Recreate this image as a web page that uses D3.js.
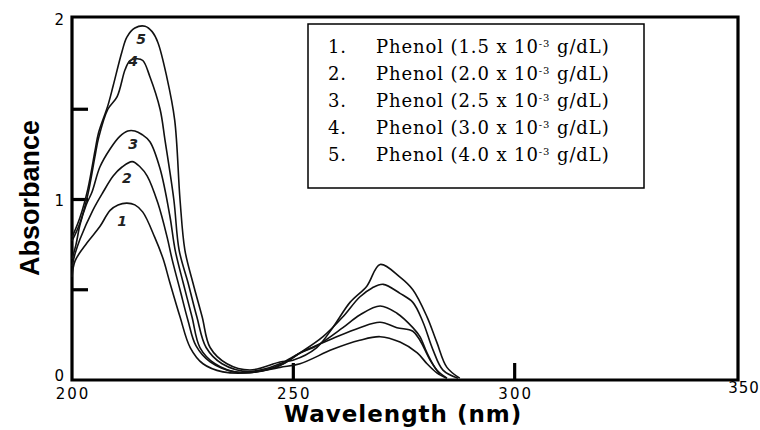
<!DOCTYPE html>
<html>
<head>
<meta charset="utf-8">
<script src="https://cdn.jsdelivr.net/npm/d3@7"></script>
<style>
  body { margin: 0; background: #fff; }
  .curve { fill: none; stroke: #111; stroke-width: 1.6; }
  .frame { stroke: #000; stroke-width: 3.2; fill: none; }
  .tick-label { font-family: "DejaVu Sans", sans-serif; font-size: 15px; letter-spacing: 2px; fill: #000; }
  .legend text { font-family: "DejaVu Serif", serif; font-size: 18px; letter-spacing: 0.9px; fill: #000; }
  .num { font-family: "DejaVu Sans", sans-serif; font-size: 14px; font-style: italic; font-weight: bold; fill: #222; }
</style>
</head>
<body>
<svg class="spectrum"></svg>
<script>
// absorbance spectra: [wavelength nm, absorbance]
const curve1 = [[200,0.57],[200.7,0.66],[203.4,0.76],[206.3,0.85],[208.6,0.94],[210.4,0.97],[212.4,0.98],[214.2,0.97],[216,0.93],[218.7,0.79],[220.6,0.67],[222.1,0.54],[224.4,0.35],[226.7,0.18],[229.6,0.09],[234.1,0.045],[240.2,0.04],[247,0.07],[251.5,0.09],[258.9,0.17],[265,0.22],[269.6,0.24],[274.1,0.21],[278,0.15],[280.2,0.09],[282.4,0.04],[284.7,0.01]];
const curve2 = [[200,0.63],[200.7,0.70],[201.8,0.78],[204.7,0.94],[207,1.04],[209.3,1.13],[211.3,1.18],[213.6,1.21],[215.4,1.18],[217,1.13],[219.4,0.98],[221.5,0.79],[222.6,0.67],[224.4,0.50],[226.2,0.33],[228,0.19],[231.2,0.10],[236.8,0.045],[242.5,0.055],[247,0.09],[251.5,0.15],[258.9,0.23],[265,0.29],[269.6,0.32],[273.4,0.29],[277,0.27],[278.6,0.22],[280.9,0.11],[283.1,0.03]];
const curve3 = [[200,0.67],[200.9,0.75],[201.8,0.86],[203.2,0.97],[204.5,1.04],[206.3,1.18],[208.6,1.28],[210.8,1.35],[212.6,1.38],[214.2,1.38],[215.8,1.36],[217.6,1.32],[219.9,1.17],[222.1,0.91],[223.3,0.72],[225.1,0.54],[227.1,0.35],[228.9,0.18],[232.3,0.09],[237.9,0.04],[243.6,0.055],[247.7,0.09],[251.5,0.15],[255.3,0.19],[261.2,0.29],[265,0.36],[269.6,0.41],[273.4,0.37],[277,0.29],[278.6,0.24],[280.2,0.15],[282.4,0.055],[284.7,0.01]];
const curve4 = [[200,0.77],[201.8,0.87],[203.6,1.03],[205.2,1.24],[206,1.34],[208.1,1.50],[210.2,1.57],[212,1.72],[213.1,1.77],[214.7,1.78],[216,1.77],[217.6,1.68],[219.9,1.50],[221,1.33],[223,1.0],[224.2,0.72],[226.2,0.54],[228.2,0.35],[230.3,0.18],[233.9,0.09],[240.2,0.045],[247,0.08],[251.5,0.15],[256.7,0.24],[261.2,0.35],[265,0.46],[267.8,0.51],[270.3,0.53],[274.1,0.48],[277,0.43],[279.3,0.32],[281.5,0.17],[283.8,0.055],[287.2,0.01]];
const curve5 = [[200,0.79],[201.8,0.90],[203.6,1.06],[205.2,1.27],[206,1.37],[208.1,1.52],[209.3,1.63],[211.3,1.82],[212.4,1.90],[214.2,1.95],[216.5,1.96],[218.1,1.93],[219.4,1.87],[221.4,1.68],[223.2,1.44],[224.4,1.0],[225.5,0.72],[227.3,0.54],[229.4,0.35],[231.2,0.18],[235,0.09],[240.2,0.055],[247,0.10],[249.9,0.11],[255.3,0.18],[258.9,0.29],[262.8,0.43],[266.6,0.52],[269.6,0.64],[274.1,0.57],[277,0.50],[280.2,0.35],[282.4,0.21],[284.7,0.07],[287.6,0.01]];
const curves = [curve1, curve2, curve3, curve4, curve5];

// hand-written curve numbers, placed in data units
const curveNames = ["1", "2", "3", "4", "5"];
const nameWavelength = [211.3, 212.4, 213.8, 213.8, 215.6];
const nameAbsorbance = [0.88, 1.12, 1.31, 1.77, 1.89];

// legend entries
const concentrations = ["1.5", "2.0", "2.5", "3.0", "4.0"];

// axis ticks
const xTickLabels = [200, 250, 300, 350];
const yTickLabels = [0, 1, 2];
const yMinorTicks = [0.5, 1, 1.5];
const xInnerTicks = [250, 300];

var width = 760, height = 430;

var x = d3.scaleLinear().domain([200, 350]).range([72, 736]);
var y = d3.scaleLinear().domain([0, 2]).range([380, 19]);

var svg = d3.select("svg.spectrum")
    .attr("width", width)
    .attr("height", height);

// plot frame
var frameRight = 738, frameTop = 17;
svg.append("path")
    .attr("class", "frame")
    .attr("d", "M" + x(200) + "," + frameTop + "L" + frameRight + "," + frameTop +
               "L" + frameRight + "," + y(0) + "L" + x(200) + "," + y(0) + "Z");

// inner ticks on the left axis
svg.selectAll(".ytick")
    .data(yMinorTicks)
  .enter().append("line")
    .attr("class", "frame")
    .attr("x1", x(200)).attr("x2", x(200) + 16)
    .attr("y1", function(d) { return y(d); })
    .attr("y2", function(d) { return y(d); });

// inner ticks on the bottom axis
svg.selectAll(".xtick")
    .data(xInnerTicks)
  .enter().append("line")
    .attr("class", "frame")
    .attr("x1", function(d) { return x(d); })
    .attr("x2", function(d) { return x(d); })
    .attr("y1", y(0)).attr("y2", y(0) - 17);

// y tick labels
svg.selectAll(".ylab")
    .data(yTickLabels)
  .enter().append("text")
    .attr("class", "tick-label")
    .attr("x", 66)
    .attr("y", function(d) { return d === 0 ? y(d) + 1 : y(d) + 6; })
    .attr("text-anchor", "end")
    .text(function(d) { return d; });

// x tick labels (the last one sits a bit higher, as in the original)
svg.selectAll(".xlab")
    .data(xTickLabels)
  .enter().append("text")
    .attr("class", "tick-label")
    .attr("x", function(d) { return x(d) + (d === 350 ? 8 : 1); })
    .attr("y", function(d) { return d === 350 ? 393 : 399; })
    .attr("text-anchor", "middle")
    .style("letter-spacing", function(d) { return d === 350 ? "1px" : null; })
    .text(function(d) { return d; });

// axis titles
svg.append("text")
    .attr("x", 403).attr("y", 422)
    .attr("text-anchor", "middle")
    .style("font-family", "DejaVu Sans, sans-serif")
    .style("font-weight", "bold")
    .style("font-size", "23px")
    .style("letter-spacing", "1px")
    .text("Wavelength (nm)");

svg.append("text")
    .attr("transform", "translate(39,198) rotate(-90)")
    .attr("text-anchor", "middle")
    .style("font-family", "Liberation Sans, Arial, sans-serif")
    .style("font-weight", "bold")
    .style("font-size", "27px")
    .text("Absorbance");

// spectra
var line = d3.line()
    .x(function(d) { return x(d[0]); })
    .y(function(d) { return y(d[1]); })
    .curve(d3.curveCatmullRom.alpha(0.5));

svg.selectAll(".curve")
    .data(curves)
  .enter().append("path")
    .attr("class", "curve")
    .attr("d", line);

// curve numbers
svg.selectAll(".num")
    .data(curveNames)
  .enter().append("text")
    .attr("class", "num")
    .attr("x", function(d, i) { return x(nameWavelength[i]); })
    .attr("y", function(d, i) { return y(nameAbsorbance[i]) + 5; })
    .attr("text-anchor", "middle")
    .text(function(d) { return d; });

// legend box
var legend = svg.append("g").attr("class", "legend");
legend.append("rect")
    .attr("x", 308).attr("y", 24)
    .attr("width", 336).attr("height", 164)
    .attr("fill", "none")
    .attr("stroke", "#000")
    .attr("stroke-width", 1.5);

var rows = legend.selectAll(".row")
    .data(concentrations)
  .enter().append("g")
    .attr("transform", function(d, i) { return "translate(0," + (53 + i * 27) + ")"; });

rows.append("text")
    .attr("x", 328)
    .text(function(d, i) { return (i + 1) + "."; });

var label = rows.append("text")
    .attr("x", 376);
label.append("tspan").text(function(d) { return "Phenol (" + d + " x 10"; });
label.append("tspan")
    .attr("dy", -6)
    .style("font-size", "10px")
    .text("-3");
label.append("tspan")
    .attr("dy", 6)
    .text(" g/dL)");
</script>
</body>
</html>
